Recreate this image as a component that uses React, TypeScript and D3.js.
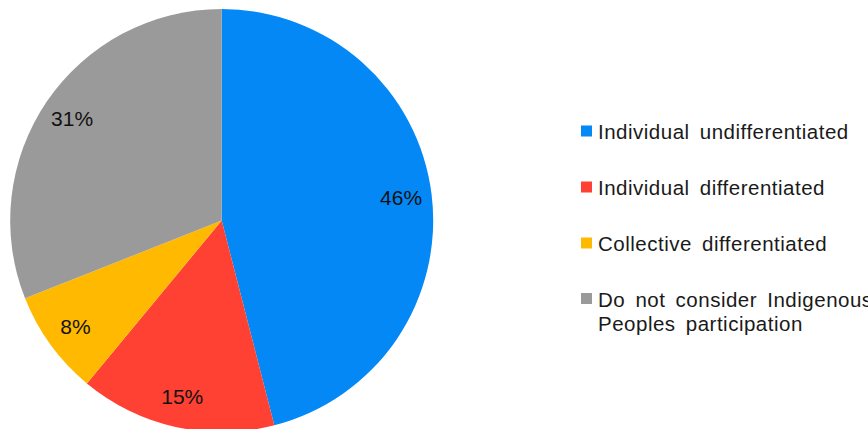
import React from "react";
import * as d3 from "d3";

const categories = [
  "Individual undifferentiated",
  "Individual differentiated",
  "Collective differentiated",
  "Do not consider Indigenous Peoples participation",
];
const legendLines = [
  ["Individual undifferentiated"],
  ["Individual differentiated"],
  ["Collective differentiated"],
  ["Do not consider Indigenous", "Peoples participation"],
];
const values = [46, 15, 8, 31];
const colors = ["#0388F6", "#FE4133", "#FFB900", "#9A9A9A"];

const W = 868;
const H = 429;
const cx = 221.7;
const cy = 220.5;
const R = 211.5;

export default function App() {
  const pie = d3.pie<number>().sort(null).value((d) => d);
  const arcs = pie(values);
  const arc = d3.arc<d3.PieArcDatum<number>>().innerRadius(0).outerRadius(R);
  const labelArc = d3
    .arc<d3.PieArcDatum<number>>()
    .innerRadius(R * 0.855)
    .outerRadius(R * 0.855);
  const total = d3.sum(values);
  const rowY = d3.scaleLinear().domain([0, 1]).range([139, 195]);

  return (
    <svg
      width={W}
      height={H}
      style={{ position: "absolute", left: 0, top: 0, background: "#fff" }}
      fontFamily="'Liberation Sans', Arial, sans-serif"
    >
      <g transform={`translate(${cx},${cy})`}>
        {arcs.map((a, i) => (
          <path key={i} d={arc(a) || ""} fill={colors[i]} />
        ))}
        {arcs.map((a, i) => {
          const [x, y] = labelArc.centroid(a);
          return (
            <text
              key={i}
              x={x}
              y={y}
              textAnchor="middle"
              dominantBaseline="central"
              fontSize={21}
              fill="#111"
            >
              {`${Math.round((a.data / total) * 100)}%`}
            </text>
          );
        })}
      </g>
      <g>
        {categories.map((c, i) => {
          const base = rowY(i) - (i === 3 ? 0.5 : 0);
          const lines = legendLines[i];
          return (
            <g key={c}>
              <rect x={581} y={base - 13.5} width={11} height={11} fill={colors[i]} />
              {lines.map((ln, j) => (
                <text
                  key={j}
                  x={598}
                  y={base + j * 24}
                  fontSize={20.5}
                  letterSpacing={0.5}
                  wordSpacing={4}
                  fill="#1a1a1a"
                >
                  {ln}
                </text>
              ))}
            </g>
          );
        })}
      </g>
    </svg>
  );
}
